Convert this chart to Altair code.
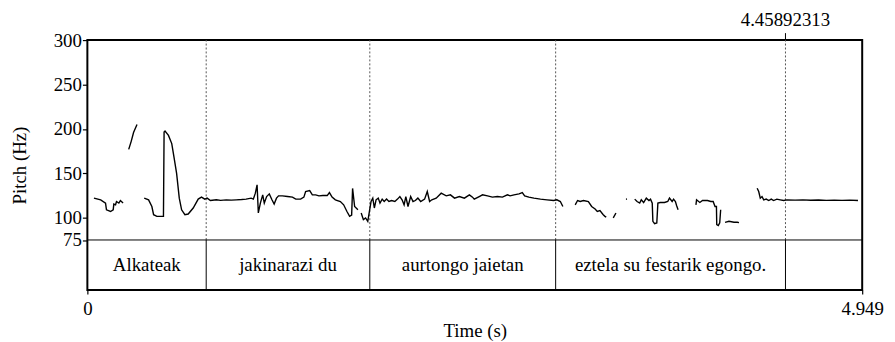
import altair as alt
import pandas as pd

# ---- pitch track segments (time in s, pitch in Hz) ----
seg1_t = [0.042, 0.085, 0.116, 0.122, 0.148, 0.165, 0.169, 0.180, 0.186, 0.201, 0.211, 0.228]
seg1_hz = [122.1, 120.2, 116.5, 109.0, 107.1, 109.0, 115.4, 114.6, 118.3, 116.5, 119.4, 116.5]

seg2_t = [0.264, 0.280, 0.295, 0.317]
seg2_hz = [177.0, 186.0, 196.0, 205.0]

seg3_t = [0.363, 0.391, 0.412, 0.423, 0.444, 0.486, 0.490, 0.496, 0.518, 0.539, 0.553, 0.570,
          0.587, 0.602, 0.623, 0.644, 0.676, 0.708, 0.729, 0.750, 0.765, 0.786, 0.824, 0.851,
          0.887, 0.920, 0.951, 0.985, 1.014, 1.046, 1.060, 1.073, 1.084, 1.092, 1.105, 1.120,
          1.130, 1.145, 1.162, 1.179, 1.193, 1.208, 1.221, 1.246, 1.278, 1.310, 1.331, 1.362,
          1.383, 1.394, 1.420, 1.437, 1.458, 1.479, 1.504, 1.532, 1.546, 1.563, 1.584, 1.616,
          1.637, 1.658, 1.675, 1.688, 1.694, 1.707, 1.728]
seg3_hz = [122.1, 120.2, 112.7, 103.5, 101.6, 101.6, 196.4, 197.5, 192.7, 183.5, 168.5, 150.0,
           122.1, 109.0, 103.5, 104.2, 111.0, 121.0, 123.2, 121.0, 122.1, 119.4, 120.2, 119.6,
           120.2, 119.8, 120.2, 120.5, 121.0, 122.1, 121.0, 127.7, 137.0, 105.4, 116.5, 125.8,
           116.5, 123.9, 126.9, 120.2, 115.4, 122.1, 124.7, 124.7, 123.9, 123.2, 121.0, 121.0,
           123.2, 129.5, 130.6, 125.8, 125.8, 124.7, 125.0, 125.0, 128.3, 123.2, 120.2, 118.3,
           114.6, 107.1, 101.6, 103.0, 133.0, 112.7, 109.0]

seg4_t = [1.749, 1.763, 1.777, 1.791, 1.800, 1.812, 1.823, 1.833, 1.844, 1.858, 1.869, 1.883,
          1.896, 1.911, 1.926, 1.943, 1.964, 1.981, 1.996, 2.010, 2.023, 2.034, 2.048, 2.065,
          2.080, 2.095, 2.111, 2.129, 2.154, 2.171, 2.186, 2.200, 2.228, 2.260, 2.292, 2.319,
          2.345, 2.376, 2.408, 2.440, 2.460, 2.471, 2.503, 2.524, 2.556, 2.587, 2.619, 2.651,
          2.683, 2.700, 2.725, 2.757, 2.778, 2.793, 2.820, 2.852, 2.894, 2.936, 2.978, 2.999,
          3.021, 3.037]
seg4_hz = [105.4, 97.9, 99.8, 96.0, 105.4, 118.3, 122.1, 111.0, 120.2, 122.1, 116.5, 121.0,
           118.3, 121.0, 118.3, 119.4, 118.3, 121.0, 123.9, 120.2, 114.6, 123.9, 112.7, 123.9,
           118.3, 119.4, 122.1, 118.3, 121.0, 129.5, 118.3, 120.2, 122.1, 127.7, 124.7, 125.8,
           122.1, 123.9, 122.1, 125.8, 123.2, 121.0, 123.9, 125.8, 124.7, 123.2, 123.9, 123.2,
           125.8, 124.7, 125.8, 126.9, 128.3, 124.7, 123.2, 122.1, 121.0, 120.2, 119.4, 120.2,
           118.3, 112.7]

seg5_t = [3.116, 3.131, 3.148, 3.169, 3.200, 3.221, 3.243, 3.257, 3.274, 3.295, 3.306, 3.314]
seg5_hz = [114.6, 119.4, 118.3, 119.4, 118.3, 112.7, 109.8, 107.1, 108.2, 103.5, 101.6, 100.7]

seg6_t = [3.359, 3.376]
seg6_hz = [99.8, 105.4]

seg7_t = [3.440, 3.447]
seg7_hz = [121.0, 121.0]

seg8_t = [3.496, 3.511, 3.528, 3.538, 3.553, 3.570, 3.587, 3.597, 3.608, 3.612, 3.623, 3.637,
          3.644, 3.659, 3.686, 3.707, 3.718, 3.735, 3.744, 3.756, 3.764, 3.773]
seg8_hz = [121.0, 118.3, 116.5, 120.2, 117.2, 122.1, 119.4, 121.0, 116.5, 96.0, 93.4, 94.2,
           116.5, 117.2, 117.2, 118.3, 122.1, 118.3, 121.0, 118.3, 113.5, 109.0]

seg9_t = [3.887, 3.891, 3.912, 3.929, 3.961, 3.982, 3.997, 4.009, 4.018, 4.020, 4.030, 4.039, 4.045]
seg9_hz = [114.6, 120.2, 117.2, 119.4, 119.4, 118.3, 118.3, 112.7, 112.7, 92.3, 91.2, 94.2, 109.0]

seg10_t = [4.073, 4.098, 4.130, 4.151, 4.162]
seg10_hz = [94.9, 96.0, 94.9, 94.9, 94.5]

seg11_t = [4.278, 4.288, 4.298, 4.309, 4.320, 4.336, 4.352, 4.368, 4.383, 4.404, 4.425, 4.447,
           4.468, 4.520, 4.570, 4.620, 4.670, 4.720, 4.770, 4.820, 4.870, 4.922]
seg11_hz = [133.3, 129.5, 122.1, 123.9, 120.2, 121.0, 119.4, 121.0, 119.4, 121.0, 120.2, 119.4,
            120.2, 119.8, 120.1, 119.7, 120.0, 119.6, 119.9, 119.6, 119.9, 119.4]

# ---- text grid tier ----
interval_starts = [0.0, 0.759, 1.804, 2.991, 4.45892313]
interval_ends = [0.759, 1.804, 2.991, 4.45892313, 4.949]
interval_labels = ["Alkateak", "jakinarazi du", "aurtongo jaietan", "eztela su festarik egongo.", ""]
boundaries = [0.759, 1.804, 2.991, 4.45892313]
cursor_time = [4.45892313]
cursor_label = ["4.45892313"]

x_ticks = [0, 4.949]
y_ticks = [75, 100, 150, 200, 250, 300]

# ---- build tables ----
segs = [(seg1_t, seg1_hz), (seg2_t, seg2_hz), (seg3_t, seg3_hz), (seg4_t, seg4_hz),
        (seg5_t, seg5_hz), (seg6_t, seg6_hz), (seg7_t, seg7_hz), (seg8_t, seg8_hz),
        (seg9_t, seg9_hz), (seg10_t, seg10_hz), (seg11_t, seg11_hz)]
rows = []
for i, (ts, hs) in enumerate(segs):
    for t, h in zip(ts, hs):
        rows.append({"t": t, "hz": h, "seg": i})
pitch_df = pd.DataFrame(rows)

tier_df = pd.DataFrame({"start": interval_starts, "end": interval_ends, "label": interval_labels})
tier_df["mid"] = (tier_df["start"] + tier_df["end"]) / 2
bound_df = pd.DataFrame({"b": boundaries})
cursor_df = pd.DataFrame({"b": cursor_time, "label": cursor_label})

# layout: pitch panel 201.5 px tall for 75..300 Hz, tier 50.5 px below it
PLOT_W, PLOT_H = 781, 252
PITCH_H = 201.5
TIER_H = PLOT_H - PITCH_H
ymin = 75 - (300 - 75) * TIER_H / PITCH_H
tier_mid = (ymin + 75) / 2

FONT = "Liberation Serif"
FS = 19

xscale = alt.Scale(domain=[0, 4.949], nice=False, zero=False)
yscale = alt.Scale(domain=[ymin, 300], nice=False, zero=False)

xenc = alt.X("t:Q", scale=xscale,
             axis=alt.Axis(values=x_ticks, format=".4~r", title="Time (s)", grid=False,
                           domain=False, tickSize=4, tickColor="black", labelPadding=6,
                           titlePadding=3, labelFlush=False))
yenc = alt.Y("hz:Q", scale=yscale,
             axis=alt.Axis(values=y_ticks, format="d", title="Pitch (Hz)", grid=False,
                           domain=False, tickSize=5, tickColor="black", labelPadding=1,
                           titleX=-68, titleY=PLOT_H / 2, titleAngle=270,
                           titleBaseline="middle", titleAlign="center"))

pitch = alt.Chart(pitch_df).mark_line(color="black", strokeWidth=1.4).encode(
    x=xenc, y=yenc, detail="seg:N", order="t:Q")

dotted = alt.Chart(bound_df).mark_rule(color="#555555", strokeWidth=1, strokeDash=[2, 2]).encode(
    x=alt.X("b:Q", scale=xscale), y=alt.datum(75), y2=alt.datum(300))

tier_lines = alt.Chart(bound_df).mark_rule(color="black", strokeWidth=1).encode(
    x=alt.X("b:Q", scale=xscale), y=alt.datum(ymin), y2=alt.datum(75))

hline = alt.Chart(pd.DataFrame({"v": [75]})).mark_rule(color="black", strokeWidth=1).encode(
    y=alt.Y("v:Q", scale=yscale))

tier_text = alt.Chart(tier_df).mark_text(font=FONT, fontSize=FS, color="black",
                                         baseline="middle", align="center").encode(
    x=alt.X("mid:Q", scale=xscale), y=alt.datum(tier_mid), text="label:N")

cursor_tick = alt.Chart(cursor_df).mark_rule(color="black", strokeWidth=1).encode(
    x=alt.X("b:Q", scale=xscale), y=alt.value(-7), y2=alt.value(0))

cursor_text = alt.Chart(cursor_df).mark_text(font=FONT, fontSize=FS, color="black",
                                             baseline="alphabetic", align="center").encode(
    x=alt.X("b:Q", scale=xscale), y=alt.value(-14), text="label:N")

chart = alt.layer(dotted, tier_lines, hline, pitch, tier_text, cursor_tick, cursor_text).properties(
    width=PLOT_W, height=PLOT_H,
    autosize=alt.AutoSizeParams(type="none"),
    padding={"left": 80, "top": 31, "right": 25, "bottom": 51},
    background="white",
).configure_view(stroke="black", strokeWidth=2).configure_axis(
    labelFont=FONT, labelFontSize=FS, labelColor="black",
    titleFont=FONT, titleFontSize=FS, titleFontWeight="normal", titleColor="black",
    tickWidth=1.2,
)

chart.save("out.html", embed_options={"renderer": "svg", "actions": False})
